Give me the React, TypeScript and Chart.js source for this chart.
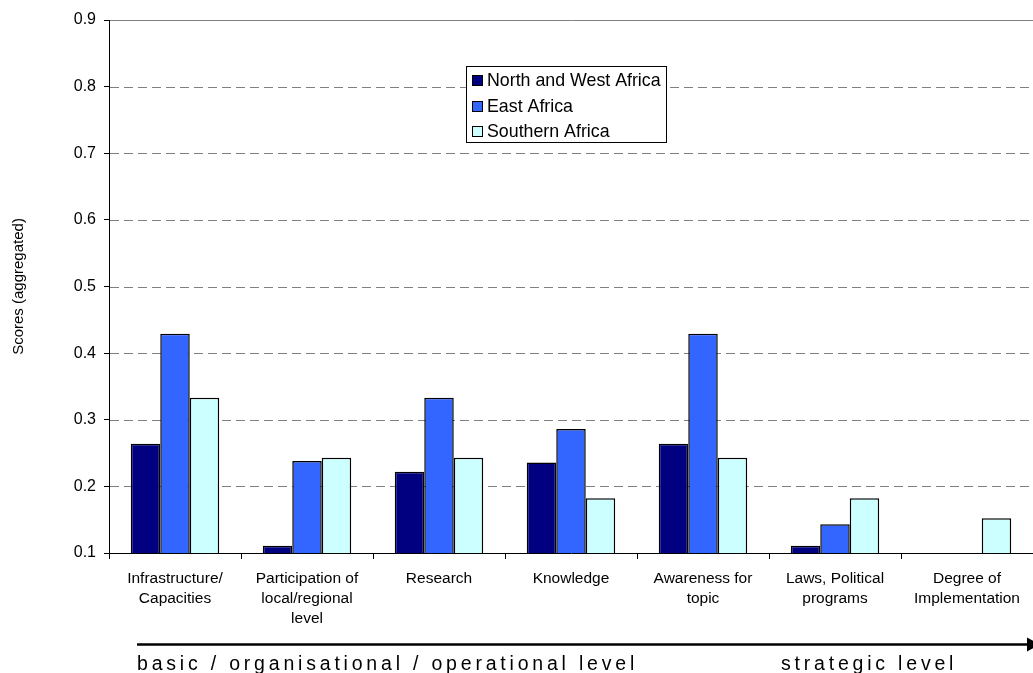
import React, { useEffect, useRef } from "react";
import { Chart, registerables } from "chart.js";

Chart.register(...registerables);

// ---- data ----
const categories: (string | string[])[] = [
  ["Infrastructure/", "Capacities"],
  ["Participation of", "local/regional", "level"],
  "Research",
  "Knowledge",
  ["Awareness for", "topic"],
  ["Laws, Political", "programs"],
  ["Degree of", "Implementation"],
];
const northWestAfrica: (number | null)[] = [0.264, 0.111, 0.222, 0.236, 0.264, 0.111, null];
const eastAfrica: (number | null)[] = [0.429, 0.238, 0.333, 0.286, 0.429, 0.143, null];
const southernAfrica: (number | null)[] = [0.333, 0.243, 0.243, 0.182, 0.243, 0.182, 0.152];
const seriesNames = ["North and West Africa", "East Africa", "Southern Africa"];
const seriesColors = ["#000080", "#3366FF", "#CCFFFF"];
const yMin = 0.1;
const yMax = 0.9;
const yStep = 0.1;
const yTitle = "Scores (aggregated)";
const levelLabels = ["basic / organisational / operational level", "strategic level"];

const FONT = '"Liberation Sans", Arial, sans-serif';

const dashGridPlugin = {
  id: "dashGrid",
  beforeDatasetsDraw(chart: any) {
    const { ctx, chartArea: a } = chart;
    const y = chart.scales.y;
    ctx.save();
    ctx.strokeStyle = "#808080";
    ctx.lineWidth = 1;
    y.ticks.forEach((t: any) => {
      if (t.value <= yMin + 1e-9) return;
      const py = Math.round(y.getPixelForValue(t.value)) + 0.5;
      ctx.setLineDash(t.value >= yMax - 1e-9 ? [] : [9, 5]);
      ctx.beginPath();
      ctx.moveTo(a.left + 1, py);
      ctx.lineTo(a.right, py);
      ctx.stroke();
    });
    ctx.restore();
  },
};

const legendPlugin = {
  id: "boxLegend",
  afterDraw(chart: any) {
    const { ctx } = chart;
    const left = 466, top = 66, w = 201, h = 77;
    ctx.save();
    ctx.fillStyle = "#fff";
    ctx.fillRect(left, top, w, h);
    ctx.strokeStyle = "#000";
    ctx.lineWidth = 1;
    ctx.strokeRect(left + 0.5, top + 0.5, w - 1, h - 1);
    ctx.font = `17.8px ${FONT}`;
    ctx.textBaseline = "middle";
    chart.data.datasets.forEach((ds: any, i: number) => {
      const cy = top + 14.5 + i * 25.5;
      ctx.fillStyle = ds.backgroundColor;
      ctx.fillRect(left + 6, Math.round(cy - 5.5), 11, 11);
      ctx.strokeStyle = "#000";
      ctx.strokeRect(left + 6.5, Math.round(cy - 5.5) + 0.5, 10, 10);
      ctx.fillStyle = "#000";
      ctx.fillText(ds.label, left + 21, cy + 1);
    });
    ctx.restore();
  },
};

function spacedText(ctx: CanvasRenderingContext2D, text: string, x: number, y: number, spacing: number) {
  let cx = x;
  for (const ch of text) {
    ctx.fillText(ch, cx, y);
    cx += ctx.measureText(ch).width + spacing;
  }
}

const levelArrowPlugin = {
  id: "levelArrow",
  afterDraw(chart: any) {
    const { ctx, width } = chart;
    ctx.save();
    ctx.strokeStyle = "#000";
    ctx.fillStyle = "#000";
    ctx.lineWidth = 2.5;
    const ly = 644.5;
    ctx.beginPath();
    ctx.moveTo(137, ly);
    ctx.lineTo(width - 3, ly);
    ctx.stroke();
    ctx.beginPath();
    ctx.moveTo(width - 6, ly - 7);
    ctx.lineTo(width + 7, ly);
    ctx.lineTo(width - 6, ly + 7);
    ctx.closePath();
    ctx.fill();
    ctx.font = `19.5px ${FONT}`;
    ctx.textBaseline = "alphabetic";
    spacedText(ctx, levelLabels[0], 137, 670, 3.8);
    spacedText(ctx, levelLabels[1], 781, 670, 3.8);
    ctx.restore();
  },
};

export default function App() {
  const ref = useRef<HTMLCanvasElement | null>(null);
  useEffect(() => {
    if (!ref.current) return;
    const chart = new Chart(ref.current, {
      type: "bar",
      data: {
        labels: categories,
        datasets: [northWestAfrica, eastAfrica, southernAfrica].map((d, i) => ({
          label: seriesNames[i],
          data: d,
          backgroundColor: seriesColors[i],
          borderColor: "#000",
          borderWidth: 1.5,
          categoryPercentage: 0.67,
          barPercentage: 1.0,
        })),
      },
      options: {
        animation: false,
        responsive: true,
        maintainAspectRatio: false,
        layout: { padding: { top: 20, right: 0, bottom: 0, left: 0 } },
        plugins: {
          legend: { display: false },
          tooltip: { enabled: false },
        },
        scales: {
          x: {
            grid: {
              display: true,
              drawOnChartArea: false,
              drawTicks: true,
              tickLength: 6,
              tickColor: "#000",
              color: "#000",
              offset: true,
            },
            border: { display: true, color: "#000", width: 1 },
            ticks: {
              color: "#000",
              font: { family: FONT, size: 15.5, lineHeight: 1.29 },
              padding: 10,
              maxRotation: 0,
              minRotation: 0,
              autoSkip: false,
            },
            afterFit: (s: any) => {
              s.height = 120;
            },
          },
          y: {
            min: yMin,
            max: yMax,
            grid: {
              drawOnChartArea: false,
              drawTicks: true,
              tickLength: 5,
              tickColor: "#000",
            },
            border: { display: true, color: "#000", width: 1 },
            ticks: {
              stepSize: yStep,
              color: "#000",
              font: { family: FONT, size: 16 },
              padding: 8,
              callback: (v: any) => Number(v).toFixed(1),
            },
            title: {
              display: true,
              text: yTitle,
              color: "#000",
              font: { family: FONT, size: 15 },
              padding: { top: 10, bottom: 0 },
            },
            afterFit: (s: any) => {
              s.width = 109;
            },
          },
        },
      } as any,
      plugins: [dashGridPlugin, legendPlugin, levelArrowPlugin],
    });
    return () => chart.destroy();
  }, []);
  return (
    <div style={{ position: "absolute", left: 0, top: 0, width: 1033, height: 673, background: "#fff" }}>
      <canvas ref={ref} />
    </div>
  );
}
